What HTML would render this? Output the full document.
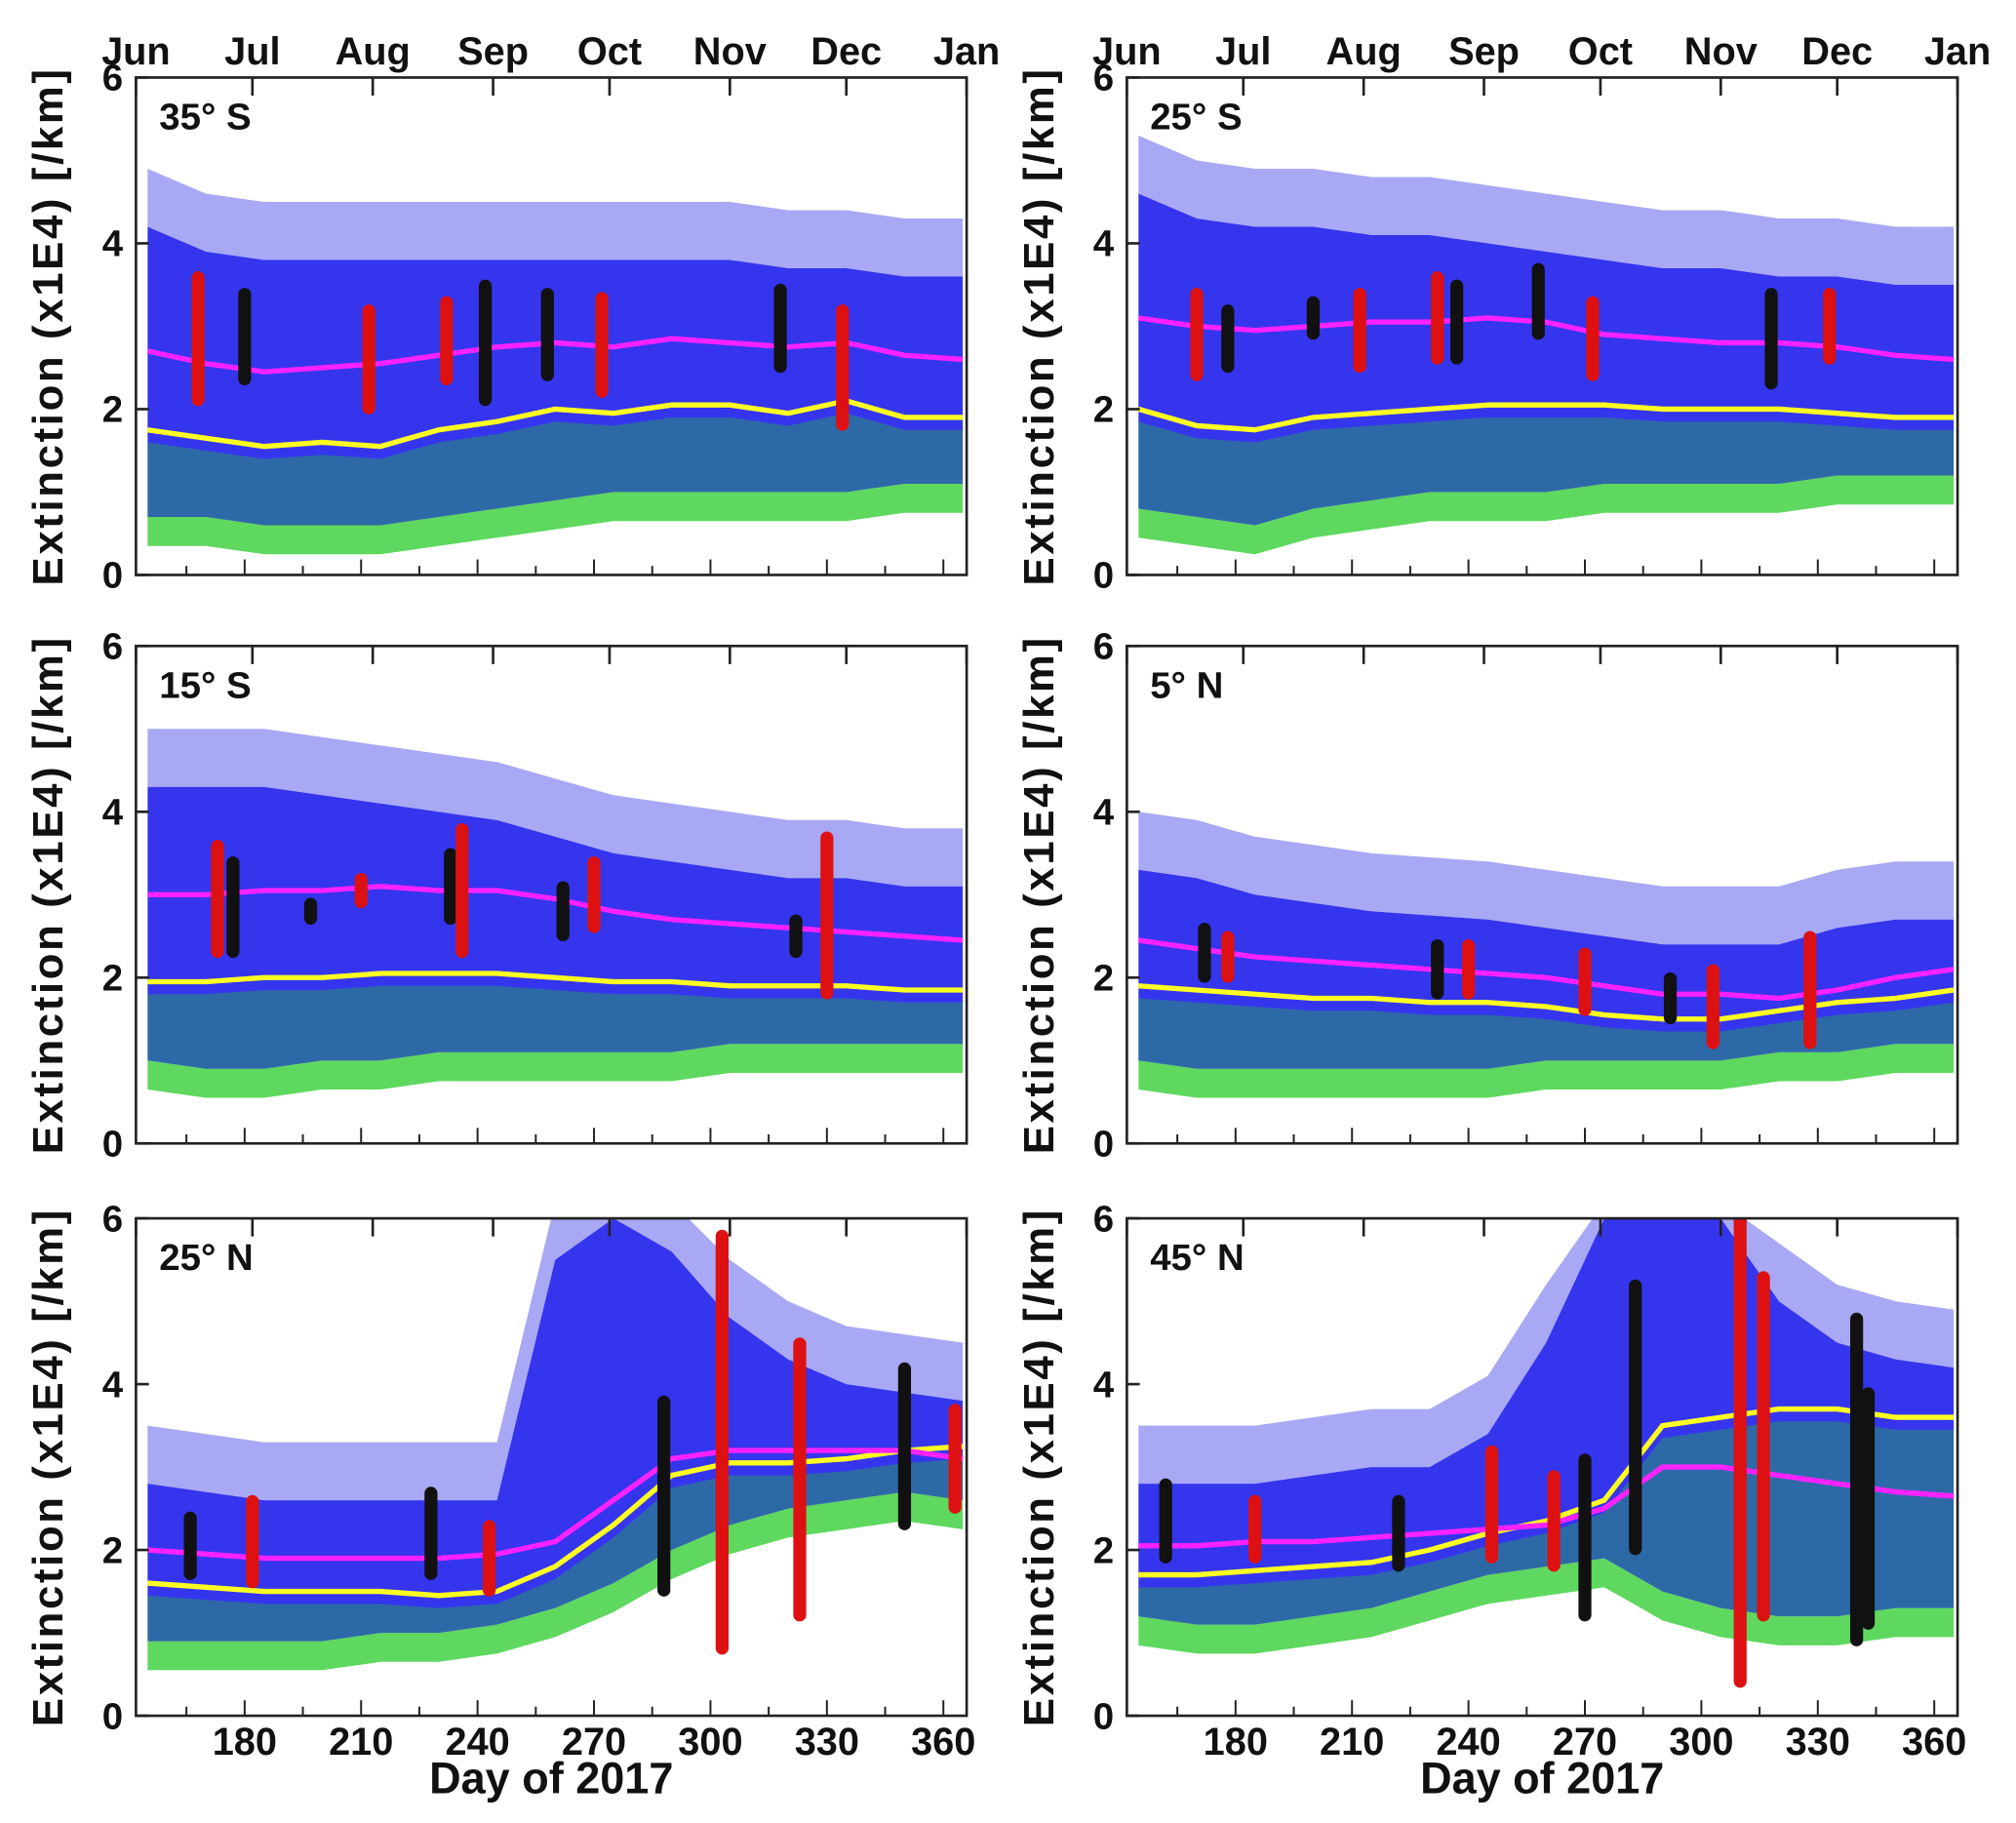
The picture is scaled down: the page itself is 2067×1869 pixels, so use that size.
<!DOCTYPE html>
<html><head><meta charset="utf-8"><style>
body{margin:0;background:#fff}
svg{display:block}
text{font-family:"Liberation Sans",Arial,sans-serif;font-weight:bold;fill:#111}
</style></head><body>
<svg id="fig" width="2067" height="1869" viewBox="0 0 1560 1411" xmlns="http://www.w3.org/2000/svg"></svg>
<script>
const sampleDays=[155,170,185,200,215,230,245,260,275,290,305,320,335,350,365];
const panelLabels=["35° S","25° S","15° S","5° N","25° N","45° N"];
const pinkA=[2.7,2.55,2.45,2.5,2.55,2.65,2.75,2.8,2.75,2.85,2.8,2.75,2.8,2.65,2.6];
const yellowA=[1.75,1.65,1.55,1.6,1.55,1.75,1.85,2.0,1.95,2.05,2.05,1.95,2.1,1.9,1.9];
const blueHiA=[4.2,3.9,3.8,3.8,3.8,3.8,3.8,3.8,3.8,3.8,3.8,3.7,3.7,3.6,3.6];
const greenLoA=[0.7,0.7,0.6,0.6,0.6,0.7,0.8,0.9,1.0,1.0,1.0,1.0,1.0,1.1,1.1];
const pinkB=[3.1,3.0,2.95,3.0,3.05,3.05,3.1,3.05,2.9,2.85,2.8,2.8,2.75,2.65,2.6];
const yellowB=[2.0,1.8,1.75,1.9,1.95,2.0,2.05,2.05,2.05,2.0,2.0,2.0,1.95,1.9,1.9];
const blueHiB=[4.6,4.3,4.2,4.2,4.1,4.1,4.0,3.9,3.8,3.7,3.7,3.6,3.6,3.5,3.5];
const greenLoB=[0.8,0.7,0.6,0.8,0.9,1.0,1.0,1.0,1.1,1.1,1.1,1.1,1.2,1.2,1.2];
const pinkC=[3.0,3.0,3.05,3.05,3.1,3.05,3.05,2.95,2.8,2.7,2.65,2.6,2.55,2.5,2.45];
const yellowC=[1.95,1.95,2.0,2.0,2.05,2.05,2.05,2.0,1.95,1.95,1.9,1.9,1.9,1.85,1.85];
const blueHiC=[4.3,4.3,4.3,4.2,4.1,4.0,3.9,3.7,3.5,3.4,3.3,3.2,3.2,3.1,3.1];
const greenLoC=[1.0,0.9,0.9,1.0,1.0,1.1,1.1,1.1,1.1,1.1,1.2,1.2,1.2,1.2,1.2];
const pinkD=[2.45,2.35,2.25,2.2,2.15,2.1,2.05,2.0,1.9,1.8,1.8,1.75,1.85,2.0,2.1];
const yellowD=[1.9,1.85,1.8,1.75,1.75,1.7,1.7,1.65,1.55,1.5,1.5,1.6,1.7,1.75,1.85];
const blueHiD=[3.3,3.2,3.0,2.9,2.8,2.75,2.7,2.6,2.5,2.4,2.4,2.4,2.6,2.7,2.7];
const greenLoD=[1.0,0.9,0.9,0.9,0.9,0.9,0.9,1.0,1.0,1.0,1.0,1.1,1.1,1.2,1.2];
const pinkE=[2.0,1.95,1.9,1.9,1.9,1.9,1.95,2.1,2.6,3.1,3.2,3.2,3.2,3.2,3.1];
const yellowE=[1.6,1.55,1.5,1.5,1.5,1.45,1.5,1.8,2.3,2.9,3.05,3.05,3.1,3.2,3.25];
const blueHiE=[2.8,2.7,2.6,2.6,2.6,2.6,2.6,5.5,6.0,5.6,4.8,4.3,4.0,3.9,3.8];
const greenLoE=[0.9,0.9,0.9,0.9,1.0,1.0,1.1,1.3,1.6,2.0,2.3,2.5,2.6,2.7,2.6];
const pinkF=[2.05,2.05,2.1,2.1,2.15,2.2,2.25,2.3,2.5,3.0,3.0,2.9,2.8,2.7,2.65];
const yellowF=[1.7,1.7,1.75,1.8,1.85,2.0,2.2,2.35,2.6,3.5,3.6,3.7,3.7,3.6,3.6];
const blueHiF=[2.8,2.8,2.8,2.9,3.0,3.0,3.4,4.5,6.0,6.0,6.0,5.0,4.5,4.3,4.2];
const greenLoF=[1.2,1.1,1.1,1.2,1.3,1.5,1.7,1.8,1.9,1.5,1.3,1.2,1.2,1.3,1.3];
// clusters: day, low, high, colour (r=red, k=black)
const clustersA=[[168,2.1,3.6,"r"],[180,2.35,3.4,"k"],[212,2.0,3.2,"r"],[232,2.35,3.3,"r"],[242,2.1,3.5,"k"],[258,2.4,3.4,"k"],[272,2.2,3.35,"r"],[318,2.5,3.45,"k"],[334,1.8,3.2,"r"]];
const clustersB=[[170,2.4,3.4,"r"],[178,2.5,3.2,"k"],[200,2.9,3.3,"k"],[212,2.5,3.4,"r"],[232,2.6,3.6,"r"],[237,2.6,3.5,"k"],[258,2.9,3.7,"k"],[272,2.4,3.3,"r"],[318,2.3,3.4,"k"],[333,2.6,3.4,"r"]];
const clustersC=[[173,2.3,3.6,"r"],[177,2.3,3.4,"k"],[197,2.7,2.9,"k"],[210,2.9,3.2,"r"],[233,2.7,3.5,"k"],[236,2.3,3.8,"r"],[262,2.5,3.1,"k"],[270,2.6,3.4,"r"],[322,2.3,2.7,"k"],[330,1.8,3.7,"r"]];
const clustersD=[[172,2.0,2.6,"k"],[178,2.0,2.5,"r"],[232,1.8,2.4,"k"],[240,1.8,2.4,"r"],[270,1.6,2.3,"r"],[292,1.5,2.0,"k"],[303,1.2,2.1,"r"],[328,1.2,2.5,"r"]];
const clustersE=[[166,1.7,2.4,"k"],[182,1.6,2.6,"r"],[228,1.7,2.7,"k"],[243,1.5,2.3,"r"],[288,1.5,3.8,"k"],[303,0.8,5.8,"r"],[323,1.2,4.5,"r"],[350,2.3,4.2,"k"],[363,2.5,3.7,"r"]];
const clustersF=[[162,1.9,2.8,"k"],[185,1.9,2.6,"r"],[222,1.8,2.6,"k"],[246,1.9,3.2,"r"],[262,1.8,2.9,"r"],[270,1.2,3.1,"k"],[283,2.0,5.2,"k"],[310,0.4,6.0,"r"],[316,1.2,5.3,"r"],[340,0.9,4.8,"k"],[343,1.1,3.9,"k"]];
const monthNames=["Jun","Jul","Aug","Sep","Oct","Nov","Dec","Jan"];
const monthDays=[152,182,213,244,274,305,335,366];
const dayTicks=[180,210,240,270,300,330,360];
const yTicks=[0,2,4,6];

const panels=[
 {x:105,y:60,p:pinkA,yl:yellowA,bh:blueHiA,gl:greenLoA,c:clustersA},
 {x:872,y:60,p:pinkB,yl:yellowB,bh:blueHiB,gl:greenLoB,c:clustersB},
 {x:105,y:500,p:pinkC,yl:yellowC,bh:blueHiC,gl:greenLoC,c:clustersC},
 {x:872,y:500,p:pinkD,yl:yellowD,bh:blueHiD,gl:greenLoD,c:clustersD},
 {x:105,y:943,p:pinkE,yl:yellowE,bh:blueHiE,gl:greenLoE,c:clustersE},
 {x:872,y:943,p:pinkF,yl:yellowF,bh:blueHiF,gl:greenLoF,c:clustersF}];
const W=643,H=385,D0=152,D1=366;
const NS="http://www.w3.org/2000/svg";
const svg=document.getElementById('fig');
function mk(t,a,parent){const e=document.createElementNS(NS,t);for(const k in a)e.setAttribute(k,a[k]);(parent||svg).appendChild(e);return e;}
panels.forEach((P,i)=>{
 const g=mk('g',{});
 
 
 const xs=d=>P.x+(d-D0)/(D1-D0)*W, ys=v=>P.y+H-v/6*H;
 const clip=mk('clipPath',{id:'c'+i},g);mk('rect',{x:P.x,y:P.y,width:W,height:H},clip);
 const dg=mk('g',{'clip-path':'url(#c'+i+')'},g);
 const band=(hi,lo)=>{let s=sampleDays.map((d,j)=>xs(d)+','+ys(hi[j])).join(' ');s+=' '+sampleDays.slice().reverse().map((d,j)=>xs(d)+','+ys(lo[lo.length-1-j])).join(' ');return s;};
 const sparseHi=P.bh.map(v=>Math.min(6.2,v+0.7));
 const gLo=P.gl.map(v=>Math.max(0,v-0.35));
 const g0=mk('polygon',{points:band(P.gl,gLo),fill:'#5fd85f'},dg);
 
 const b0=mk('polygon',{points:band(sparseHi,P.bh),fill:'#a8a8f4'},dg);
 
 const b=mk('polygon',{points:band(P.bh,P.gl),fill:'#3535ee'},dg);
 
 const gHi=P.yl.map(v=>v-0.15);
 const gr=mk('polygon',{points:band(gHi,P.gl),fill:'#22cc22',opacity:0.35},dg);
 
 const yl=mk('polyline',{points:sampleDays.map((d,j)=>xs(d)+','+ys(P.yl[j])).join(' '),fill:'none',stroke:'#ffff22','stroke-width':4},dg);
 
 const pl=mk('polyline',{points:sampleDays.map((d,j)=>xs(d)+','+ys(P.p[j])).join(' '),fill:'none',stroke:'#ff22ff','stroke-width':4},dg);
 
 P.c.forEach(c=>{
  const r=mk('rect',{x:xs(c[0])-5,y:ys(c[2])-4,width:10,height:ys(c[1])-ys(c[2])+8,rx:5,fill:c[3]==='r'?'#dd1111':'#111'},dg);
  
  
 });
 const fr=mk('rect',{x:P.x,y:P.y,width:W,height:H,fill:'none',stroke:'#222','stroke-width':2},g);
 
 monthDays.forEach(d=>mk('line',{x1:xs(d),x2:xs(d),y1:P.y,y2:P.y+14,stroke:'#222','stroke-width':2},g));
 for(let d=165;d<366;d+=15)mk('line',{x1:xs(d),x2:xs(d),y1:P.y+H,y2:P.y+H-(d%30===0?12:7),stroke:'#222','stroke-width':1.5},g);
 yTicks.forEach(v=>{
  mk('line',{x1:P.x,x2:P.x+10,y1:ys(v),y2:ys(v),stroke:'#222','stroke-width':2},g);
  const t=mk('text',{x:P.x-10,y:ys(v)+10,'text-anchor':'end','font-size':29},g);t.textContent=v;
  
 });
 const yt=mk('text',{transform:`translate(${P.x-57},${P.y+H/2}) rotate(-90)`,'text-anchor':'middle','font-size':33,'letter-spacing':2},g);
 yt.textContent='Extinction (x1E4) [/km]';
 
 const lb=mk('text',{x:P.x+18,y:P.y+40,'font-size':29},g);lb.textContent=panelLabels[i];
 
 if(i<2)monthNames.forEach((m,j)=>{const t=mk('text',{x:xs(monthDays[j]),y:50,'text-anchor':'middle','font-size':30},g);t.textContent=m;
  });
 if(i>=4){
  dayTicks.forEach(d=>{const t=mk('text',{x:xs(d),y:P.y+H+30,'text-anchor':'middle','font-size':30},g);t.textContent=d;
   });
  const xt=mk('text',{x:P.x+W/2,y:P.y+H+60,'text-anchor':'middle','font-size':34},g);xt.textContent='Day of 2017';
  
 }
});
</script>
</body></html>
